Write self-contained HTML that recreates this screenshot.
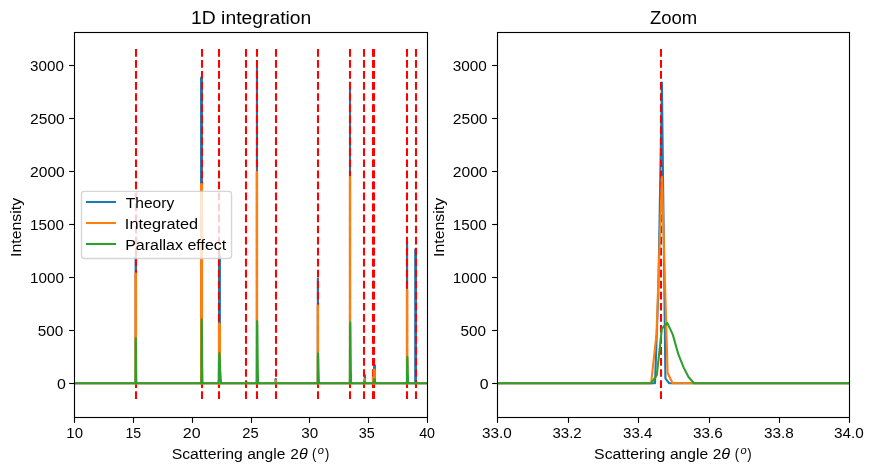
<!DOCTYPE html>
<html><head><meta charset="utf-8"><title>1D integration</title>
<style>html,body{margin:0;padding:0;background:#fff;}body{width:874px;height:475px;overflow:hidden;position:relative;font-family:"Liberation Sans",sans-serif;}svg{position:absolute;left:0;top:0;font-family:"Liberation Sans",sans-serif;}svg.tx{will-change:transform;opacity:0.999;}text{fill:#000;}</style>
</head><body>
<svg width="874" height="475" viewBox="0 0 874 475">
<rect x="0" y="0" width="874" height="475" fill="#ffffff"/>
<defs><clipPath id="cl"><rect x="74.50" y="32.50" width="353.00" height="385.00"/></clipPath><clipPath id="cr"><rect x="497.50" y="32.50" width="352.00" height="385.00"/></clipPath></defs>
<g clip-path="url(#cl)">
<path d="M74.50,383.30 L427.50,383.30" fill="none" stroke="#1f77b4" stroke-width="2.083" stroke-linejoin="round"/>
<line x1="135.80" y1="383.30" x2="135.80" y2="256.40" stroke="#1f77b4" stroke-width="2.40" stroke-linecap="round"/>
<line x1="201.50" y1="383.30" x2="201.50" y2="77.88" stroke="#1f77b4" stroke-width="2.95" stroke-linecap="round"/>
<line x1="219.45" y1="383.30" x2="219.45" y2="255.67" stroke="#1f77b4" stroke-width="2.95" stroke-linecap="round"/>
<line x1="256.95" y1="383.30" x2="256.95" y2="66.95" stroke="#1f77b4" stroke-width="2.10" stroke-linecap="round"/>
<line x1="275.70" y1="383.30" x2="275.70" y2="379.25" stroke="#1f77b4" stroke-width="2.40" stroke-linecap="round"/>
<line x1="317.90" y1="383.30" x2="317.90" y2="278.80" stroke="#1f77b4" stroke-width="2.20" stroke-linecap="round"/>
<line x1="350.00" y1="383.30" x2="350.00" y2="82.55" stroke="#1f77b4" stroke-width="2.10" stroke-linecap="round"/>
<line x1="364.90" y1="383.30" x2="364.90" y2="375.48" stroke="#1f77b4" stroke-width="2.36" stroke-linecap="round"/>
<line x1="373.00" y1="383.30" x2="373.00" y2="377.75" stroke="#1f77b4" stroke-width="2.10" stroke-linecap="round"/>
<line x1="374.50" y1="383.30" x2="374.50" y2="365.68" stroke="#1f77b4" stroke-width="2.95" stroke-linecap="round"/>
<line x1="407.05" y1="383.30" x2="407.05" y2="241.00" stroke="#1f77b4" stroke-width="2.20" stroke-linecap="round"/>
<line x1="415.60" y1="383.30" x2="415.60" y2="249.73" stroke="#1f77b4" stroke-width="2.85" stroke-linecap="round"/>
<line x1="136.00" y1="398.95" x2="136.00" y2="48.90" stroke="#ff0000" stroke-width="2.083" stroke-dasharray="7.708 3.333"/>
<line x1="202.00" y1="398.95" x2="202.00" y2="48.90" stroke="#ff0000" stroke-width="2.083" stroke-dasharray="7.708 3.333"/>
<line x1="219.00" y1="398.95" x2="219.00" y2="48.90" stroke="#ff0000" stroke-width="2.083" stroke-dasharray="7.708 3.333"/>
<line x1="246.00" y1="398.95" x2="246.00" y2="48.90" stroke="#ff0000" stroke-width="2.083" stroke-dasharray="7.708 3.333"/>
<line x1="257.00" y1="398.95" x2="257.00" y2="48.90" stroke="#ff0000" stroke-width="2.083" stroke-dasharray="7.708 3.333"/>
<line x1="276.00" y1="398.95" x2="276.00" y2="48.90" stroke="#ff0000" stroke-width="2.083" stroke-dasharray="7.708 3.333"/>
<line x1="318.00" y1="398.95" x2="318.00" y2="48.90" stroke="#ff0000" stroke-width="2.083" stroke-dasharray="7.708 3.333"/>
<line x1="350.00" y1="398.95" x2="350.00" y2="48.90" stroke="#ff0000" stroke-width="2.083" stroke-dasharray="7.708 3.333"/>
<line x1="364.00" y1="398.95" x2="364.00" y2="48.90" stroke="#ff0000" stroke-width="2.083" stroke-dasharray="7.708 3.333"/>
<line x1="373.00" y1="398.95" x2="373.00" y2="48.90" stroke="#ff0000" stroke-width="2.083" stroke-dasharray="7.708 3.333"/>
<line x1="374.00" y1="398.95" x2="374.00" y2="48.90" stroke="#ff0000" stroke-width="2.083" stroke-dasharray="7.708 3.333"/>
<line x1="407.00" y1="398.95" x2="407.00" y2="48.90" stroke="#ff0000" stroke-width="2.083" stroke-dasharray="7.708 3.333"/>
<line x1="416.00" y1="398.95" x2="416.00" y2="48.90" stroke="#ff0000" stroke-width="2.083" stroke-dasharray="7.708 3.333"/>
<path d="M74.50,383.30 L427.50,383.30" fill="none" stroke="#ff7f0e" stroke-width="2.083" stroke-linejoin="round"/>
<line x1="135.70" y1="383.30" x2="135.70" y2="273.90" stroke="#ff7f0e" stroke-width="2.60" stroke-linecap="round"/>
<line x1="201.50" y1="383.30" x2="201.50" y2="184.57" stroke="#ff7f0e" stroke-width="2.95" stroke-linecap="round"/>
<line x1="219.45" y1="383.30" x2="219.45" y2="324.10" stroke="#ff7f0e" stroke-width="3.00" stroke-linecap="round"/>
<line x1="256.90" y1="383.30" x2="256.90" y2="171.98" stroke="#ff7f0e" stroke-width="2.35" stroke-linecap="round"/>
<line x1="275.70" y1="383.30" x2="275.70" y2="380.70" stroke="#ff7f0e" stroke-width="2.40" stroke-linecap="round"/>
<line x1="317.85" y1="383.30" x2="317.85" y2="305.70" stroke="#ff7f0e" stroke-width="2.40" stroke-linecap="round"/>
<line x1="350.00" y1="383.30" x2="350.00" y2="177.03" stroke="#ff7f0e" stroke-width="2.25" stroke-linecap="round"/>
<line x1="364.50" y1="383.30" x2="364.50" y2="379.41" stroke="#ff7f0e" stroke-width="2.43" stroke-linecap="round"/>
<line x1="373.00" y1="383.30" x2="373.00" y2="378.15" stroke="#ff7f0e" stroke-width="2.10" stroke-linecap="round"/>
<line x1="374.25" y1="383.30" x2="374.25" y2="370.15" stroke="#ff7f0e" stroke-width="3.10" stroke-linecap="round"/>
<line x1="407.10" y1="383.30" x2="407.10" y2="289.88" stroke="#ff7f0e" stroke-width="2.35" stroke-linecap="round"/>
<path d="M74.50,383.30 L135.47,383.30 L135.59,377.45 L135.71,341.45 L135.83,338.30 L135.95,347.30 L136.07,361.70 L136.18,371.60 L136.30,378.80 L136.42,383.30 L201.33,383.30 L201.48,374.99 L201.62,323.87 L201.77,319.40 L201.92,332.18 L202.07,352.63 L202.21,366.69 L202.36,376.91 L202.51,383.30 L218.39,383.30 L218.74,379.36 L219.08,355.12 L219.43,353.00 L219.78,359.06 L220.13,368.76 L220.48,375.42 L220.82,380.27 L221.17,383.30 L256.69,383.30 L256.86,375.21 L257.04,325.45 L257.22,321.10 L257.39,333.54 L257.57,353.44 L257.74,367.13 L257.92,377.08 L258.10,383.30 L317.59,383.30 L317.76,379.40 L317.94,355.40 L318.12,353.30 L318.29,359.30 L318.47,368.90 L318.64,375.50 L318.82,380.30 L319.00,383.30 L349.74,383.30 L349.91,375.37 L350.09,326.57 L350.27,322.30 L350.44,334.50 L350.62,354.02 L350.79,367.44 L350.97,377.20 L351.15,383.30 L364.22,383.30 L364.34,383.11 L364.46,381.91 L364.58,381.80 L364.70,382.10 L364.82,382.58 L364.93,382.91 L365.05,383.15 L365.17,383.30 L373.34,383.30 L373.69,382.74 L374.03,379.30 L374.38,379.00 L374.73,379.86 L375.08,381.24 L375.43,382.18 L375.77,382.87 L376.12,383.30 L406.84,383.30 L407.01,379.84 L407.19,358.56 L407.37,356.70 L407.54,362.02 L407.72,370.53 L407.89,376.38 L408.07,380.64 L408.25,383.30 L427.50,383.30" fill="none" stroke="#2ca02c" stroke-width="2.083" stroke-linejoin="round"/>
</g>
<g clip-path="url(#cr)">
<path d="M497.50,383.30 L655.00,383.30 L658.35,291.00 L661.90,82.50 L665.40,378.40 L669.30,383.30 L849.50,383.30" fill="none" stroke="#1f77b4" stroke-width="2.083" stroke-linejoin="round"/>
<line x1="661.00" y1="398.95" x2="661.00" y2="48.90" stroke="#ff0000" stroke-width="2.083" stroke-dasharray="7.708 3.333"/>
<path d="M497.50,383.30 L651.10,383.30 L656.50,334.00 L661.95,176.90 L667.60,373.00 L672.60,383.30 L849.50,383.30" fill="none" stroke="#ff7f0e" stroke-width="2.083" stroke-linejoin="round"/>
<path d="M497.50,383.30 L651.10,383.30 L656.80,375.20 L661.90,328.40 L667.30,322.90 L672.80,334.60 L678.30,354.20 L683.70,367.60 L688.50,377.00 L694.00,383.30 L849.50,383.30" fill="none" stroke="#2ca02c" stroke-width="2.083" stroke-linejoin="round"/>
</g>
<rect x="74.5" y="32.5" width="353.0" height="385.0" fill="none" stroke="#000" stroke-width="1.11"/>
<line x1="74.5" y1="418.00" x2="74.5" y2="422.86" stroke="#000" stroke-width="1.11"/>
<line x1="133.5" y1="418.00" x2="133.5" y2="422.86" stroke="#000" stroke-width="1.11"/>
<line x1="192.5" y1="418.00" x2="192.5" y2="422.86" stroke="#000" stroke-width="1.11"/>
<line x1="251.5" y1="418.00" x2="251.5" y2="422.86" stroke="#000" stroke-width="1.11"/>
<line x1="309.5" y1="418.00" x2="309.5" y2="422.86" stroke="#000" stroke-width="1.11"/>
<line x1="368.5" y1="418.00" x2="368.5" y2="422.86" stroke="#000" stroke-width="1.11"/>
<line x1="427.5" y1="418.00" x2="427.5" y2="422.86" stroke="#000" stroke-width="1.11"/>
<line x1="74.00" y1="65.5" x2="69.14" y2="65.5" stroke="#000" stroke-width="1.11"/>
<line x1="74.00" y1="118.5" x2="69.14" y2="118.5" stroke="#000" stroke-width="1.11"/>
<line x1="74.00" y1="171.5" x2="69.14" y2="171.5" stroke="#000" stroke-width="1.11"/>
<line x1="74.00" y1="224.5" x2="69.14" y2="224.5" stroke="#000" stroke-width="1.11"/>
<line x1="74.00" y1="277.5" x2="69.14" y2="277.5" stroke="#000" stroke-width="1.11"/>
<line x1="74.00" y1="330.5" x2="69.14" y2="330.5" stroke="#000" stroke-width="1.11"/>
<line x1="74.00" y1="383.5" x2="69.14" y2="383.5" stroke="#000" stroke-width="1.11"/>
<rect x="497.5" y="32.5" width="352.0" height="385.0" fill="none" stroke="#000" stroke-width="1.11"/>
<line x1="497.5" y1="418.00" x2="497.5" y2="422.86" stroke="#000" stroke-width="1.11"/>
<line x1="568.5" y1="418.00" x2="568.5" y2="422.86" stroke="#000" stroke-width="1.11"/>
<line x1="638.5" y1="418.00" x2="638.5" y2="422.86" stroke="#000" stroke-width="1.11"/>
<line x1="709.5" y1="418.00" x2="709.5" y2="422.86" stroke="#000" stroke-width="1.11"/>
<line x1="779.5" y1="418.00" x2="779.5" y2="422.86" stroke="#000" stroke-width="1.11"/>
<line x1="849.5" y1="418.00" x2="849.5" y2="422.86" stroke="#000" stroke-width="1.11"/>
<line x1="497.00" y1="65.5" x2="492.14" y2="65.5" stroke="#000" stroke-width="1.11"/>
<line x1="497.00" y1="118.5" x2="492.14" y2="118.5" stroke="#000" stroke-width="1.11"/>
<line x1="497.00" y1="171.5" x2="492.14" y2="171.5" stroke="#000" stroke-width="1.11"/>
<line x1="497.00" y1="224.5" x2="492.14" y2="224.5" stroke="#000" stroke-width="1.11"/>
<line x1="497.00" y1="277.5" x2="492.14" y2="277.5" stroke="#000" stroke-width="1.11"/>
<line x1="497.00" y1="330.5" x2="492.14" y2="330.5" stroke="#000" stroke-width="1.11"/>
<line x1="497.00" y1="383.5" x2="492.14" y2="383.5" stroke="#000" stroke-width="1.11"/>
</svg>
<svg class="tx" width="874" height="475" viewBox="0 0 874 475">
<rect x="81.5" y="191.4" width="150.05" height="67.1" rx="2.8" ry="2.8" fill="#ffffff" fill-opacity="0.8" stroke="#cccccc" stroke-opacity="0.8" stroke-width="1.39"/>
<line x1="87.0" y1="202.00" x2="114.95" y2="202.00" stroke="#1f77b4" stroke-width="2.083" stroke-linecap="square"/>
<line x1="87.0" y1="223.00" x2="114.95" y2="223.00" stroke="#ff7f0e" stroke-width="2.083" stroke-linecap="square"/>
<line x1="87.0" y1="244.00" x2="114.95" y2="244.00" stroke="#2ca02c" stroke-width="2.083" stroke-linecap="square"/>
<text x="191.07" y="24.00" font-size="17.60" textLength="120.22" lengthAdjust="spacingAndGlyphs">1D integration</text>
<text x="649.90" y="23.95" font-size="17.60" textLength="47.21" lengthAdjust="spacingAndGlyphs">Zoom</text>
<text x="66.37" y="438.00" font-size="14.70" textLength="16.66" lengthAdjust="spacingAndGlyphs">10</text>
<text x="125.41" y="438.00" font-size="14.70" textLength="15.74" lengthAdjust="spacingAndGlyphs">15</text>
<text x="182.80" y="438.00" font-size="14.70" textLength="17.80" lengthAdjust="spacingAndGlyphs">20</text>
<text x="242.27" y="438.00" font-size="14.70" textLength="16.44" lengthAdjust="spacingAndGlyphs">25</text>
<text x="301.19" y="438.00" font-size="14.70" textLength="16.94" lengthAdjust="spacingAndGlyphs">30</text>
<text x="358.82" y="438.00" font-size="14.70" textLength="16.04" lengthAdjust="spacingAndGlyphs">35</text>
<text x="419.13" y="438.00" font-size="14.70" textLength="15.85" lengthAdjust="spacingAndGlyphs">40</text>
<text x="482.08" y="438.00" font-size="14.70" textLength="29.75" lengthAdjust="spacingAndGlyphs">33.0</text>
<text x="552.44" y="438.00" font-size="14.70" textLength="29.24" lengthAdjust="spacingAndGlyphs">33.2</text>
<text x="623.05" y="438.00" font-size="14.70" textLength="29.22" lengthAdjust="spacingAndGlyphs">33.4</text>
<text x="693.10" y="438.00" font-size="14.70" textLength="29.78" lengthAdjust="spacingAndGlyphs">33.6</text>
<text x="764.04" y="438.00" font-size="14.70" textLength="29.83" lengthAdjust="spacingAndGlyphs">33.8</text>
<text x="834.10" y="438.00" font-size="14.70" textLength="29.80" lengthAdjust="spacingAndGlyphs">34.0</text>
<text x="30.12" y="70.50" font-size="14.70" textLength="33.76" lengthAdjust="spacingAndGlyphs">3000</text>
<text x="452.68" y="70.50" font-size="14.70" textLength="34.16" lengthAdjust="spacingAndGlyphs">3000</text>
<text x="30.10" y="123.50" font-size="14.70" textLength="34.72" lengthAdjust="spacingAndGlyphs">2500</text>
<text x="452.77" y="123.50" font-size="14.70" textLength="34.82" lengthAdjust="spacingAndGlyphs">2500</text>
<text x="30.10" y="176.50" font-size="14.70" textLength="34.72" lengthAdjust="spacingAndGlyphs">2000</text>
<text x="452.77" y="176.50" font-size="14.70" textLength="34.82" lengthAdjust="spacingAndGlyphs">2000</text>
<text x="30.11" y="229.50" font-size="14.70" textLength="33.88" lengthAdjust="spacingAndGlyphs">1500</text>
<text x="452.77" y="229.50" font-size="14.70" textLength="33.88" lengthAdjust="spacingAndGlyphs">1500</text>
<text x="30.11" y="282.50" font-size="14.70" textLength="33.88" lengthAdjust="spacingAndGlyphs">1000</text>
<text x="452.77" y="282.50" font-size="14.70" textLength="33.88" lengthAdjust="spacingAndGlyphs">1000</text>
<text x="37.81" y="335.50" font-size="14.70" textLength="25.52" lengthAdjust="spacingAndGlyphs">500</text>
<text x="460.46" y="335.50" font-size="14.70" textLength="25.53" lengthAdjust="spacingAndGlyphs">500</text>
<text x="56.97" y="388.50" font-size="14.70" textLength="8.87" lengthAdjust="spacingAndGlyphs">0</text>
<text x="479.73" y="388.50" font-size="14.70" textLength="8.80" lengthAdjust="spacingAndGlyphs">0</text>
<text transform="translate(21.30,256.96) rotate(-90)" font-size="14.70" textLength="59.05" lengthAdjust="spacingAndGlyphs">Intensity</text>
<text transform="translate(444.33,256.96) rotate(-90)" font-size="14.70" textLength="59.05" lengthAdjust="spacingAndGlyphs">Intensity</text>
<text x="171.65" y="459.05" font-size="14.70" textLength="71.15" lengthAdjust="spacingAndGlyphs">Scattering</text>
<text x="247.18" y="459.05" font-size="14.70" textLength="38.16" lengthAdjust="spacingAndGlyphs">angle</text>
<text x="290.32" y="459.05" font-size="14.70" textLength="8.60" lengthAdjust="spacingAndGlyphs">2</text>
<text x="298.90" y="459.05" font-size="14.70" textLength="8.70" lengthAdjust="spacingAndGlyphs" style="font-style:italic">θ</text>
<text x="312.12" y="458.60" font-size="13.90" textLength="4.33" lengthAdjust="spacingAndGlyphs">(</text>
<text x="317.76" y="453.90" font-size="10.50" textLength="6.19" lengthAdjust="spacingAndGlyphs" style="font-style:italic">o</text>
<text x="324.91" y="458.60" font-size="13.90" textLength="4.28" lengthAdjust="spacingAndGlyphs">)</text>
<text x="594.11" y="459.05" font-size="14.70" textLength="71.21" lengthAdjust="spacingAndGlyphs">Scattering</text>
<text x="669.91" y="459.05" font-size="14.70" textLength="38.19" lengthAdjust="spacingAndGlyphs">angle</text>
<text x="712.83" y="459.05" font-size="14.70" textLength="8.56" lengthAdjust="spacingAndGlyphs">2</text>
<text x="721.32" y="459.05" font-size="14.70" textLength="8.81" lengthAdjust="spacingAndGlyphs" style="font-style:italic">θ</text>
<text x="734.81" y="458.60" font-size="13.90" textLength="4.32" lengthAdjust="spacingAndGlyphs">(</text>
<text x="740.45" y="453.90" font-size="10.50" textLength="6.18" lengthAdjust="spacingAndGlyphs" style="font-style:italic">o</text>
<text x="747.31" y="458.60" font-size="13.90" textLength="4.40" lengthAdjust="spacingAndGlyphs">)</text>
<text x="125.75" y="207.80" font-size="14.70" textLength="48.54" lengthAdjust="spacingAndGlyphs">Theory</text>
<text x="124.88" y="228.80" font-size="14.70" textLength="73.31" lengthAdjust="spacingAndGlyphs">Integrated</text>
<text x="125.18" y="249.80" font-size="14.70" textLength="101.08" lengthAdjust="spacingAndGlyphs">Parallax effect</text>
</svg>
</body></html>
